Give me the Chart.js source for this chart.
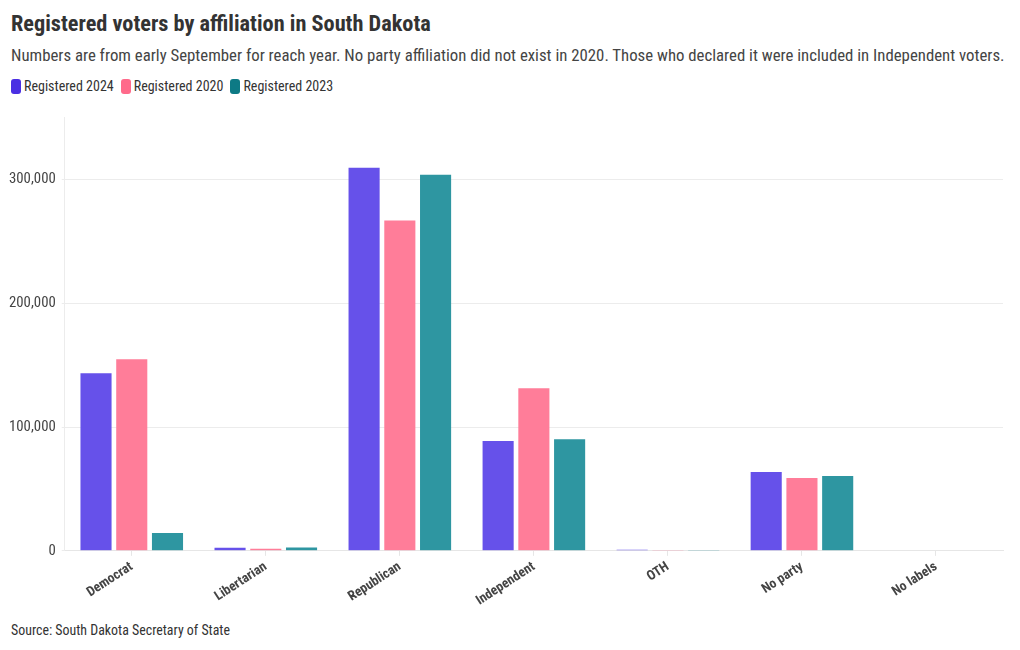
<!DOCTYPE html>
<html>
<head>
<meta charset="utf-8">
<script src="https://cdn.jsdelivr.net/npm/chart.js@4.4.1/dist/chart.umd.min.js"></script>
<style>
  body { margin: 0; background: #fff; font-family: "Roboto Condensed", "Liberation Sans Narrow", Roboto, sans-serif; color: #333; }
  #page { position: relative; width: 1020px; height: 650px; overflow: hidden; }
  #title { position: absolute; left: 11px; top: 10px; font-size: 22.3px; font-weight: bold; color: #333; }
  #subtitle { position: absolute; left: 11px; top: 45px; font-size: 16.8px; color: #444; white-space: nowrap; }
  #legend { position: absolute; left: 11px; top: 78px; font-size: 14px; color: #333; display: flex; }
  .item { display: flex; align-items: center; margin-right: 7px; }
  .sw { width: 10px; height: 15px; border-radius: 3px; margin-right: 3px; }
  #source { position: absolute; left: 11px; top: 622px; font-size: 13.9px; color: #333; }
  #wrap { position: absolute; left: 0; top: 103px; width: 1020px; height: 509px; }
</style>
</head>
<body>
<div id="page">
  <div id="title">Registered voters by affiliation in South Dakota</div>
  <div id="subtitle">Numbers are from early September for reach year. No party affiliation did not exist in 2020. Those who declared it were included in Independent voters.</div>
  <div id="legend"></div>
  <div id="wrap"><canvas id="myChart"></canvas></div>
  <div id="source">Source: South Dakota Secretary of State</div>
</div>
<script>
const categories = ['Democrat', 'Libertarian', 'Republican', 'Independent', 'OTH', 'No party', 'No labels'];
const seriesNames = ['Registered 2024', 'Registered 2020', 'Registered 2023'];
const registered2024 = [143500, 2400, 309700, 88700, 800, 63700, 0];
const registered2020 = [154800, 1600, 267000, 131500, 700, 58900, 0];
const registered2023 = [14500, 2600, 304000, 90300, 600, 60500, 0];
const yTicks = [0, 100000, 200000, 300000];
const barColors = ['#6651ea', '#ff7d99', '#2e96a1'];
const legendColors = ['#4a2fe3', '#ff6a8b', '#0d7a85'];

const legend = document.getElementById('legend');
seriesNames.forEach((name, i) => {
    const item = document.createElement('div');
    item.className = 'item';
    const sw = document.createElement('div');
    sw.className = 'sw';
    sw.style.backgroundColor = legendColors[i];
    const txt = document.createElement('span');
    txt.textContent = name;
    item.appendChild(sw);
    item.appendChild(txt);
    legend.appendChild(item);
});

const fontFamily = '"Roboto Condensed", "Liberation Sans Narrow", Roboto, sans-serif';
const values = [registered2024, registered2020, registered2023];

const ctx = document.getElementById('myChart').getContext('2d');
const myChart = new Chart(ctx, {
    type: 'bar',
    data: {
        labels: categories,
        datasets: seriesNames.map((name, i) => ({
            label: name,
            data: values[i],
            backgroundColor: barColors[i],
            borderWidth: 0,
            categoryPercentage: 0.8,
            barPercentage: 0.87
        }))
    },
    options: {
        responsive: true,
        maintainAspectRatio: false,
        animation: false,
        layout: { padding: { left: 3, right: 17, top: 7, bottom: 0 } },
        plugins: {
            legend: { display: false },
            tooltip: { enabled: false }
        },
        scales: {
            x: {
                grid: { offset: false, drawOnChartArea: false, drawTicks: true, tickLength: 5, color: '#e6e6e6' },
                border: { color: '#e6e6e6' },
                ticks: {
                    color: '#444',
                    minRotation: 33,
                    maxRotation: 33,
                    padding: 3,
                    font: { family: fontFamily, size: 13.5, weight: 'bold' }
                }
            },
            y: {
                min: 0,
                max: 350000,
                afterBuildTicks: (axis) => {
                    axis.ticks = yTicks.map(v => ({ value: v }));
                },
                grid: { color: '#ececec', drawTicks: true, tickLength: 3 },
                border: { display: true, color: '#ececec' },
                ticks: {
                    color: '#444',
                    padding: 6,
                    font: { family: fontFamily, size: 14.8 },
                    callback: (v) => v.toLocaleString('en-US')
                }
            }
        }
    }
});
</script>
</body>
</html>
